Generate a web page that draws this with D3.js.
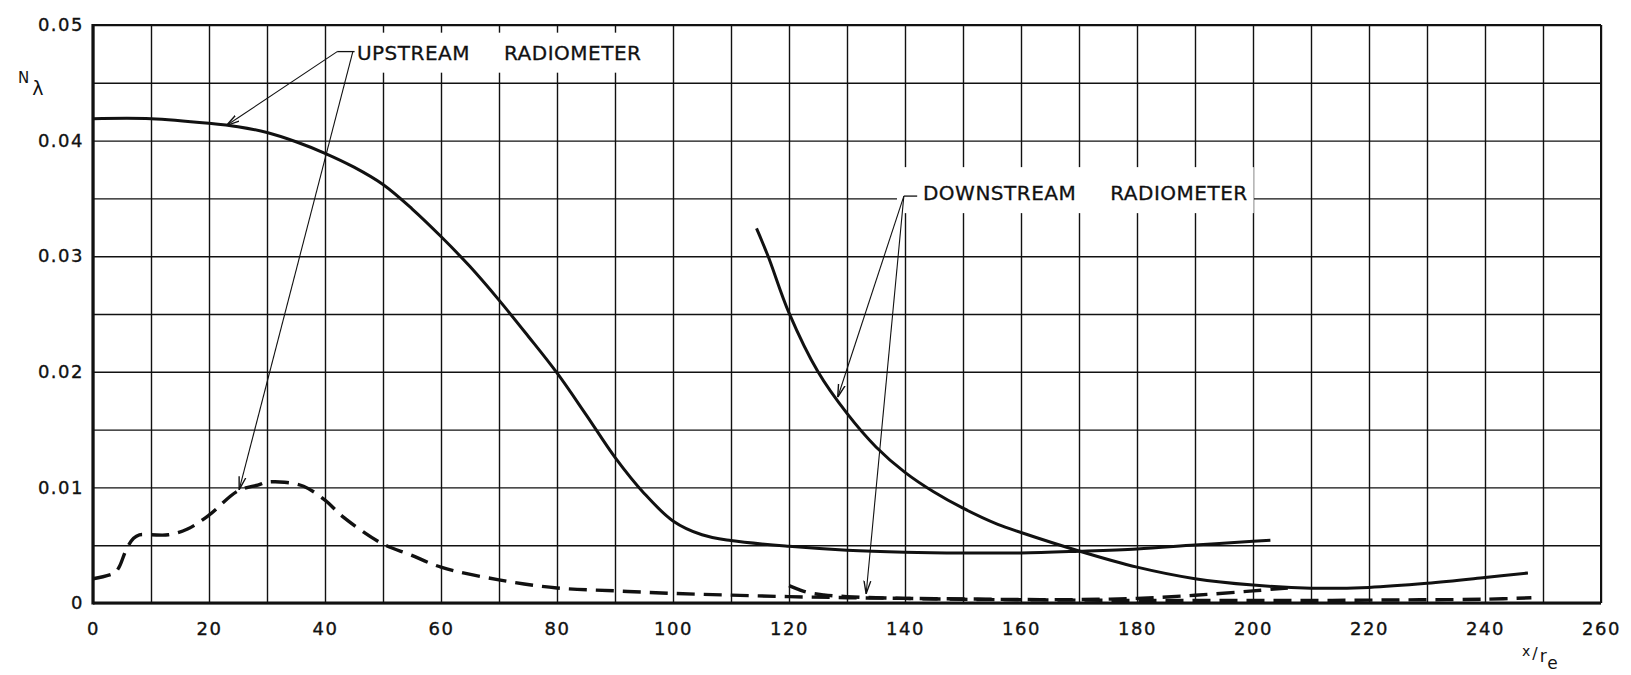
<!DOCTYPE html>
<html>
<head>
<meta charset="utf-8">
<script src="https://cdn.jsdelivr.net/npm/d3@7"></script>
<style>
  html, body { margin: 0; padding: 0; background: #fff; }
  svg { display: block; font-family: "DejaVu Sans", "Liberation Sans", sans-serif; }
</style>
</head>
<body>
<svg id="chart" width="1631" height="675"></svg>
<script>
// ---- Tick labels ----
const xTickLabels = [0, 20, 40, 60, 80, 100, 120, 140, 160, 180, 200, 220, 240, 260];
const yTickLabels = [0, 0.01, 0.02, 0.03, 0.04, 0.05];
const xGridValues = [0,10,20,30,40,50,60,70,80,90,100,110,120,130,140,150,160,170,180,190,200,210,220,230,240,250,260];
const yGridValues = [0,0.005,0.01,0.015,0.02,0.025,0.03,0.035,0.04,0.045,0.05];

// ---- Upstream radiometer, solid trace ----
const upSolidX = [0, 10, 20, 25, 30, 35, 40, 45, 50, 55, 60, 65, 70, 75, 80, 85, 90, 95, 100, 105, 110, 120, 130, 140, 150, 160, 170, 180, 190, 200, 203];
const upSolidN = [0.0419, 0.0419, 0.0415, 0.0412, 0.0407, 0.0399, 0.0389, 0.0377, 0.0362, 0.0341, 0.0317, 0.0291, 0.0262, 0.0231, 0.0199, 0.0163, 0.0126, 0.0095, 0.0071, 0.0059, 0.0054, 0.0049, 0.00457, 0.0044, 0.00433, 0.00433, 0.00448, 0.00468, 0.00502, 0.00534, 0.00543];

// ---- Upstream radiometer, dashed trace ----
const upDashX = [0, 3.7, 4.5, 5.8, 7, 8, 10, 13, 16.3, 20, 25, 28.4, 30, 33, 36.3, 40, 43, 50, 54.6, 60, 70, 80, 90, 100, 110, 120, 130, 140, 150, 160, 170, 180, 190, 200, 206];
const upDashN = [0.0021, 0.0026, 0.0031, 0.0047, 0.0056, 0.0059, 0.0059, 0.0059, 0.0064, 0.0076, 0.0097, 0.0102, 0.01045, 0.01045, 0.0101, 0.0089, 0.0075, 0.0051, 0.0042, 0.0031, 0.0020, 0.0013, 0.00105, 0.00083, 0.00068, 0.00055, 0.00046, 0.0004, 0.00035, 0.0003, 0.0003, 0.0004, 0.00067, 0.00105, 0.0013];

// ---- Downstream radiometer, solid trace ----
const downSolidX = [114.4, 116.4, 120, 125, 130, 135, 140, 145, 150, 156, 160, 170, 180, 190, 200, 210, 220, 230, 240, 247.4];
const downSolidN = [0.0324, 0.0300, 0.0251, 0.0200, 0.0164, 0.0135, 0.0113, 0.0096, 0.0082, 0.0068, 0.0061, 0.0045, 0.0031, 0.0021, 0.00155, 0.00128, 0.00135, 0.0017, 0.0022, 0.0026];

// ---- Downstream radiometer, dashed trace ----
const downDashX = [120, 121.5, 123.3, 126, 130, 135, 140, 150, 160, 170, 180, 190, 200, 210, 220, 230, 240, 248];
const downDashN = [0.0015, 0.0012, 0.0009, 0.0007, 0.00055, 0.00045, 0.0004, 0.00032, 0.00028, 0.00025, 0.00022, 0.00022, 0.00022, 0.00022, 0.00025, 0.00028, 0.00033, 0.00045];

// ---- Callout labels (positions in data units) ----
const callouts = [
  { words: ["UPSTREAM", "RADIOMETER"], text: [45.5, 0.0470], dash: [[42.1, 0.0477], [45.1, 0.0477]],
    leaders: [ { from: [42.1, 0.0477], to: [23, 0.0413] }, { from: [44.8, 0.0477], to: [25.2, 0.0098] } ],
    pad: { l: 14, r: 10, t: 8, b: 8 } },
  { words: ["DOWNSTREAM", "RADIOMETER"], text: [143.1, 0.03485], dash: [[139.8, 0.0352], [142.1, 0.0352]],
    leaders: [ { from: [139.8, 0.0352], to: [128.4, 0.0178] }, { from: [139.8, 0.0352], to: [133.3, 0.0008] } ],
    pad: { l: 26, r: 6, t: 14, b: 8 } }
];

const svg = d3.select("#chart");
const x = d3.scaleLinear().domain([0, 260]).range([93, 1601]);
const y = d3.scaleLinear().domain([0, 0.05]).range([603, 25]);
const ink = "#111";

// arrowhead
svg.append("defs").append("marker")
  .attr("id", "arrowhead")
  .attr("viewBox", "0 -5 13 10")
  .attr("refX", 13).attr("refY", 0)
  .attr("markerWidth", 13).attr("markerHeight", 10)
  .attr("markerUnits", "userSpaceOnUse")
  .attr("orient", "auto")
  .append("path")
  .attr("d", "M0,-3.4L13,0L0,3.4")
  .attr("fill", "none").attr("stroke", ink).attr("stroke-width", 1.4);

// grid
const plotH = y(0) - y(0.05);
const plotW = x(260) - x(0);
svg.append("g")
  .attr("transform", `translate(0,${y(0)})`)
  .call(d3.axisBottom(x).tickValues(xGridValues).tickSize(-plotH).tickFormat(""))
  .call(g => g.select(".domain").remove())
  .call(g => g.selectAll("line").attr("stroke", ink).attr("stroke-width", 1.4));
svg.append("g")
  .attr("transform", `translate(${x(0)},0)`)
  .call(d3.axisLeft(y).tickValues(yGridValues).tickSize(-plotW).tickFormat(""))
  .call(g => g.select(".domain").remove())
  .call(g => g.selectAll("line").attr("stroke", ink).attr("stroke-width", 1.4));

// frame
const frame = svg.append("g").attr("stroke", ink).attr("fill", "none");
frame.append("line").attr("x1", x(0)).attr("x2", x(260)).attr("y1", y(0.05)).attr("y2", y(0.05)).attr("stroke-width", 2);
frame.append("line").attr("x1", x(260)).attr("x2", x(260)).attr("y1", y(0.05)).attr("y2", y(0)).attr("stroke-width", 2);
frame.append("line").attr("x1", x(0)).attr("x2", x(0)).attr("y1", y(0.05) - 1).attr("y2", y(0) + 1.5).attr("stroke-width", 3.2);
frame.append("line").attr("x1", x(0)).attr("x2", x(260)).attr("y1", y(0)).attr("y2", y(0)).attr("stroke-width", 3.2);

// tick labels
svg.append("g")
  .attr("transform", `translate(0,${y(0) + 19})`)
  .call(d3.axisBottom(x).tickValues(xTickLabels).tickSize(0).tickPadding(0).tickFormat(d3.format("d")))
  .call(g => g.select(".domain").remove())
  .attr("font-family", null).attr("font-size", 18)
  .call(g => g.selectAll("text").attr("fill", ink).attr("stroke", ink).attr("stroke-width", 0.35).attr("letter-spacing", 1.5));
svg.append("g")
  .attr("transform", `translate(${x(0) - 9},0)`)
  .call(d3.axisLeft(y).tickValues(yTickLabels).tickSize(0).tickPadding(0)
    .tickFormat(d => d === 0 ? "0" : d.toFixed(2)))
  .call(g => g.select(".domain").remove())
  .attr("font-family", null).attr("font-size", 18)
  .call(g => g.selectAll("text").attr("fill", ink).attr("stroke", ink).attr("stroke-width", 0.35).attr("letter-spacing", 1.5));

// axis titles
const yTitle = svg.append("text").attr("x", 18).attr("y", 83).attr("fill", ink).attr("font-size", 15);
yTitle.append("tspan").text("N");
yTitle.append("tspan").attr("dx", 3).attr("dy", 12).attr("font-size", 19).text("λ");

const xTitle = svg.append("text").attr("x", 1522).attr("y", 656).attr("fill", ink).attr("font-size", 14);
xTitle.append("tspan").text("x");
xTitle.append("tspan").attr("dx", 2).attr("dy", 3).attr("font-size", 16).text("/");
xTitle.append("tspan").attr("dx", 2).attr("dy", 3).attr("font-size", 17).text("r");
xTitle.append("tspan").attr("dx", 1).attr("dy", 7).attr("font-size", 17).text("e");

// callout boxes and labels
callouts.forEach(c => {
  const g = svg.append("g");
  const box = g.append("rect").attr("fill", "#fff");
  const t = g.append("text")
    .attr("x", x(c.text[0])).attr("y", y(c.text[1]))
    .attr("font-size", 20).attr("fill", ink).attr("stroke", ink).attr("stroke-width", 0.3)
    .attr("letter-spacing", 0.5);
  t.append("tspan").text(c.words[0]);
  t.append("tspan").attr("dx", 34).text(c.words[1]);
  const bb = t.node().getBBox();
  box.attr("x", bb.x - c.pad.l).attr("y", bb.y - c.pad.t)
    .attr("width", bb.width + c.pad.l + c.pad.r).attr("height", bb.height + c.pad.t + c.pad.b);
  g.append("line")
    .attr("x1", x(c.dash[0][0])).attr("y1", y(c.dash[0][1]))
    .attr("x2", x(c.dash[1][0])).attr("y2", y(c.dash[1][1]))
    .attr("stroke", ink).attr("stroke-width", 1.3);
});

// traces
const line = d3.line().x(d => x(d[0])).y(d => y(d[1])).curve(d3.curveCatmullRom.alpha(0.5));
const traces = [
  { xs: upSolidX, ys: upSolidN, dash: null },
  { xs: downSolidX, ys: downSolidN, dash: null },
  { xs: upDashX, ys: upDashN, dash: "18 9" },
  { xs: downDashX, ys: downDashN, dash: "18 9" }
];
svg.append("g").selectAll("path").data(traces).join("path")
  .attr("d", d => line(d3.zip(d.xs, d.ys)))
  .attr("fill", "none").attr("stroke", ink)
  .attr("stroke-width", d => d.dash ? 3.4 : 3)
  .attr("stroke-dasharray", d => d.dash)
  .attr("stroke-linejoin", "round");

// leader lines
callouts.forEach(c => {
  svg.append("g").selectAll("line").data(c.leaders).join("line")
    .attr("x1", d => x(d.from[0])).attr("y1", d => y(d.from[1]))
    .attr("x2", d => x(d.to[0])).attr("y2", d => y(d.to[1]))
    .attr("stroke", ink).attr("stroke-width", 1.1)
    .attr("marker-end", "url(#arrowhead)");
});
</script>
</body>
</html>
